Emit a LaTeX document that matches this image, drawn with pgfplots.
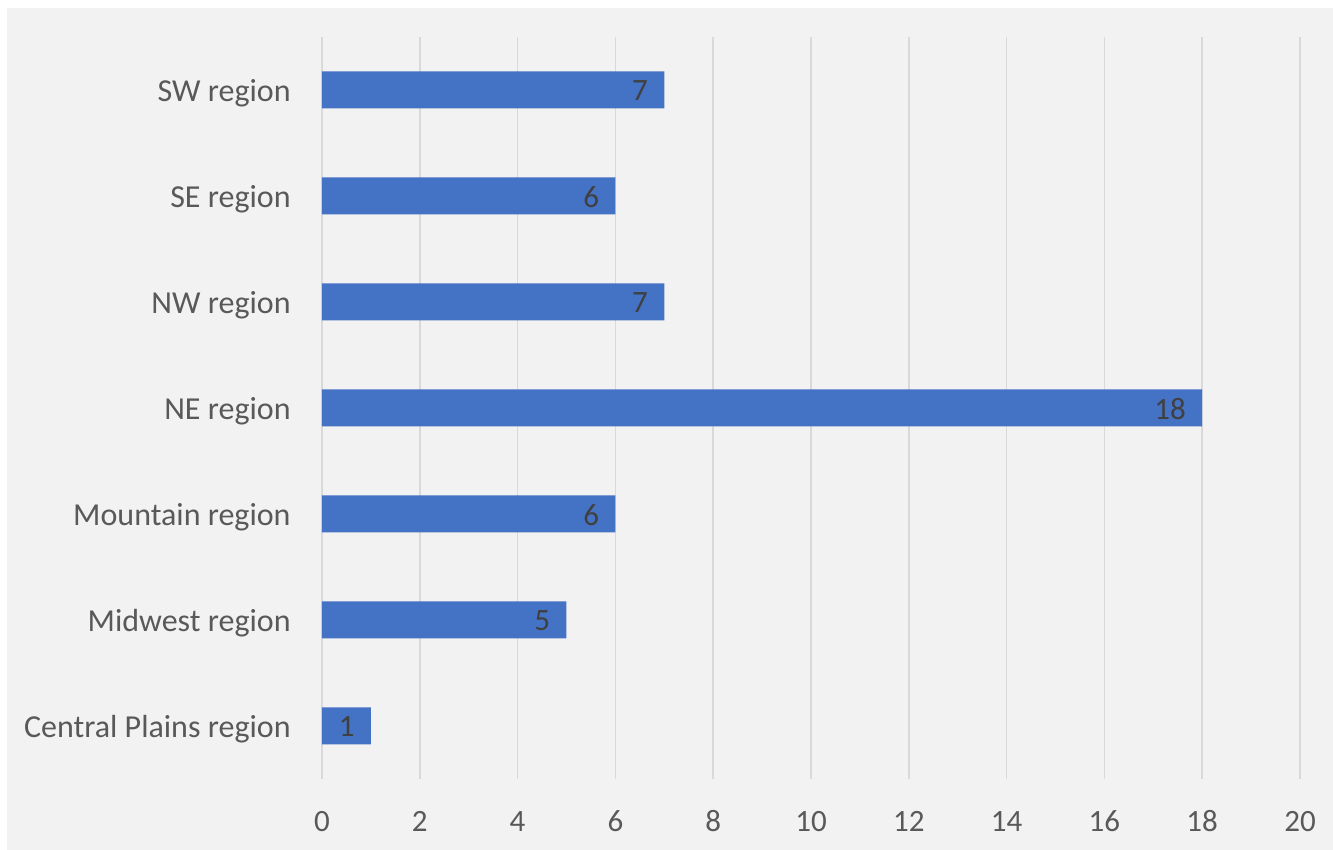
\documentclass[border=0pt]{standalone}
\usepackage{pgfplots}
\pgfplotsset{compat=1.18}
\usepackage{fontspec}
\setmainfont{Carlito}
\definecolor{bg}{HTML}{F2F2F2}
\definecolor{barblue}{HTML}{4472C4}
\definecolor{gridc}{HTML}{D9D9D9}
\definecolor{tickc}{HTML}{595959}
\definecolor{labc}{HTML}{404040}
\begin{document}
\begin{tikzpicture}
\path[use as bounding box] (-161pt,-35.5pt) rectangle (505.5pt,389.5pt);
\fill[bg] (-157.5pt,-35.5pt) rectangle (505.5pt,385.5pt);
\begin{axis}[
  at={(0pt,0pt)}, anchor=south west,
  scale only axis, width=489pt, height=371pt,
  xbar, bar width=18.5pt,
  xmin=0, xmax=20, ymin=-0.5, ymax=6.5,
  xtick={0,2,...,20}, ytick={0,1,2,3,4,5,6},
  yticklabels={Central Plains region, Midwest region, Mountain region, NE region, NW region, SE region, SW region},
  xmajorgrids, ymajorgrids=false,
  grid style={gridc, line width=0.75pt},
  axis line style={draw=none},
  major tick length=0pt,
  /pgf/number format/assume math mode=true,
  tick label style={font=\fontsize{15.5}{18}\selectfont, text=tickc, inner sep=0pt},
  xticklabel style={yshift=-16.3pt, text height=9.8pt, text depth=0pt},
  yticklabel style={xshift=-15.5pt, yshift=-1.5pt, font=\fontsize{16}{19}\selectfont},
  clip=false,
]
\addplot[fill=barblue, draw=none,
  nodes near coords,
  nodes near coords style={anchor=east, xshift=-8pt, yshift=-0.5pt, inner sep=0pt, text=labc, font=\fontsize{15.5}{18}\selectfont},
  /pgf/number format/assume math mode=true]
  coordinates {(1,0) (5,1) (6,2) (18,3) (7,4) (6,5) (7,6)};
\end{axis}
\end{tikzpicture}
\end{document}
